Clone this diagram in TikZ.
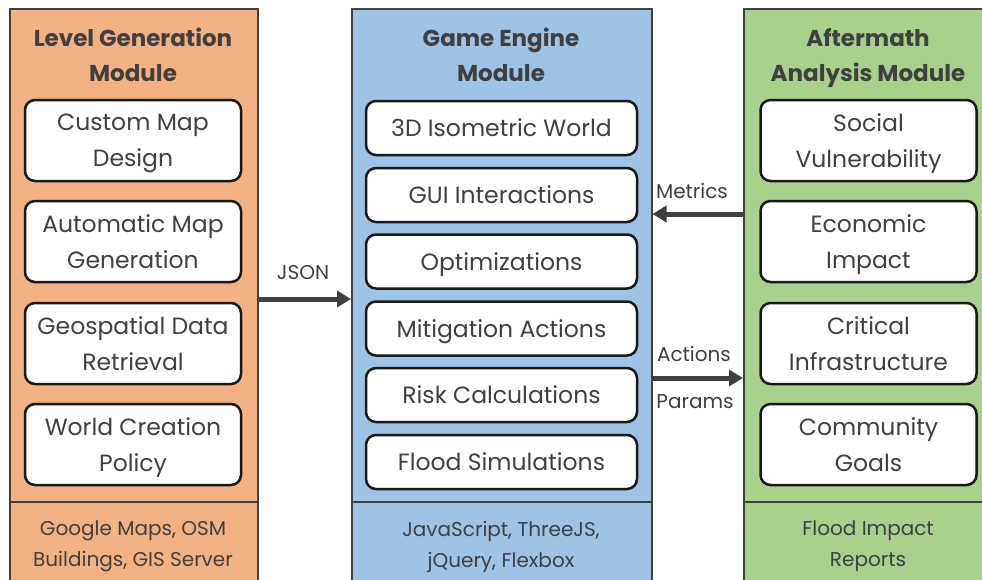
\documentclass[tikz,border=0pt]{standalone}
\usepackage{fontspec}
\setmainfont{Poppins}
\usetikzlibrary{arrows.meta}
\definecolor{lgorange}{HTML}{F4B183}
\definecolor{geblue}{HTML}{9DC3E6}
\definecolor{aagreen}{HTML}{A9D18E}
\definecolor{txtgray}{HTML}{404040}
\tikzset{
	every path/.style={thick},
	align=center,
	module/.style={
		draw=txtgray,
		line width=1.5pt,
		rectangle,
		inner sep=0pt,
		anchor=north west,
		minimum height=620pt,
	},
	head/.style={
		text=txtgray,
		text depth=0pt,
		font=\fontsize{23}{35}\selectfont\bfseries,
	},
	comp/.style={
		draw=black!90,
		line width=2.5pt,
		fill=white,
		rectangle,
		rounded corners=10pt,
		text=txtgray,
		text depth=0pt,
		font=\fontsize{23.5}{36}\selectfont,
	},
	tech/.style={
		text=txtgray,
		text depth=0pt,
		font=\fontsize{20}{31}\selectfont,
	},
	flow/.style={
		draw=txtgray,
		line width=5pt,
		-{Triangle[length=14pt,width=16pt]}
	},
	flowlabel/.style={
		text=txtgray,
		font=\fontsize{20}{24}\selectfont,
	},
}
\begin{document}
\begin{tikzpicture}[
		x=1pt, y=-1pt,
		sidecomp/.style={comp, minimum width=216pt, minimum height=81pt},
		midcomp/.style={comp, minimum width=271pt, minimum height=54pt},
	]
		\useasboundingbox (0,0) rectangle (982,579);

		\node[module, fill=lgorange, minimum width=248pt] 	(lgm) at (9,8) {};
		\node[module, fill=geblue, minimum width=300pt] 	(gem) at (351,8) {};
		\node[module, fill=aagreen, minimum width=250pt] 	(aam) at (743,8) {};

		\draw[txtgray, line width=1.5pt] (lgm.west |- 0,502) -- (lgm.east |- 0,502);
		\draw[txtgray, line width=1.5pt] (gem.west |- 0,502) -- (gem.east |- 0,502);
		\draw[txtgray, line width=1.5pt] (aam.west |- 0,502) -- (aam.east |- 0,502);

		\node[head] 					(lgmhead) at (133,54.5) {Level Generation\\Module};
		\node[head] 					(gemhead) at (501,54.5) {Game Engine\\Module};
		\node[head] 					(aamhead) at (868,54.5) {Aftermath\\Analysis Module};

		\node[sidecomp] 			(custom) at (133,140.5) {Custom Map\\Design};
		\node[sidecomp] 			(automap) at (133,241.5) {Automatic Map\\Generation};
		\node[sidecomp] 			(geodata) at (133,343.5) {Geospatial Data\\Retrieval};
		\node[sidecomp] 			(worldpol) at (133,444.5) {World Creation\\Policy};

		\node[midcomp] 				(isoworld) at (501.5,128) {3D Isometric World};
		\node[midcomp] 				(gui) at (501.5,195) {GUI Interactions};
		\node[midcomp] 				(optim) at (501.5,261.5) {Optimizations};
		\node[midcomp] 				(mitig) at (501.5,328.5) {Mitigation Actions};
		\node[midcomp] 				(risk) at (501.5,395) {Risk Calculations};
		\node[midcomp] 				(floodsim) at (501.5,462) {Flood Simulations};

		\node[sidecomp] 			(social) at (868.5,140.5) {Social\\Vulnerability};
		\node[sidecomp] 			(econ) at (868.5,241.5) {Economic\\Impact};
		\node[sidecomp] 			(critical) at (868.5,343.5) {Critical\\Infrastructure};
		\node[sidecomp] 			(goals) at (868.5,444.5) {Community\\Goals};

		\node[tech] 					(lgmtech) at (133,544) {Google Maps, OSM\\Buildings, GIS Server};
		\node[tech] 					(gemtech) at (501,544) {JavaScript, ThreeJS,\\jQuery, Flexbox};
		\node[tech] 					(aamtech) at (868,544) {Flood Impact\\Reports};

		\draw[flow] 					(lgm.east |- 0,299) -- (gem.west |- 0,299);
		\draw[flow] 					(aam.west |- 0,214) -- (gem.east |- 0,214);
		\draw[flow] 					(gem.east |- 0,378) -- (aam.west |- 0,378);

		\node[flowlabel] 			(json) at (303,273) {JSON};
		\node[flowlabel] 			(metrics) at (692,191) {Metrics};
		\node[flowlabel] 			(actions) at (694,354) {Actions};
		\node[flowlabel] 			(params) at (695,402) {Params};

	\end{tikzpicture}
\end{document}
